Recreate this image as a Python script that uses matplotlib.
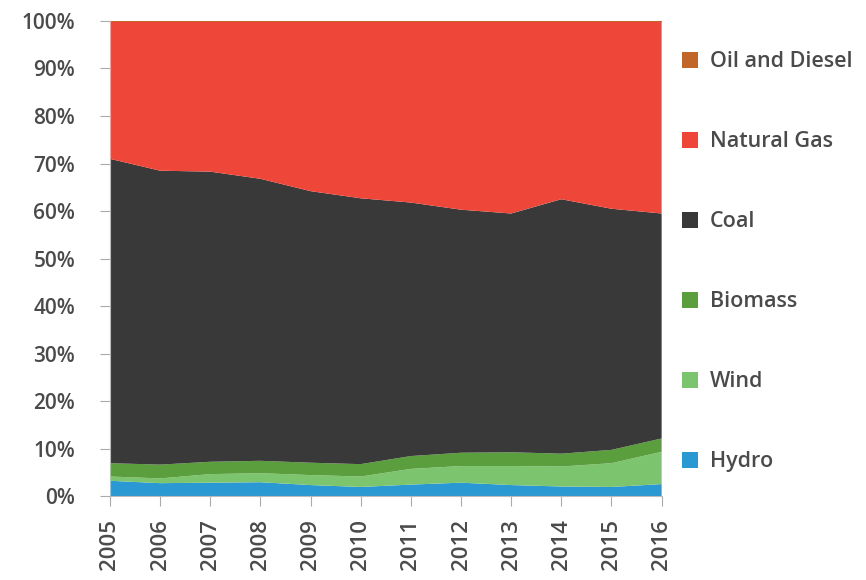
import matplotlib
matplotlib.use("Agg")
import matplotlib.pyplot as plt
from matplotlib.ticker import FuncFormatter

years = [2005, 2006, 2007, 2008, 2009, 2010, 2011, 2012, 2013, 2014, 2015, 2016]
hydro   = [3.3, 2.8, 2.9, 3.0, 2.4, 2.0, 2.5, 2.9, 2.4, 2.1, 2.0, 2.6]
wind    = [0.9, 1.0, 1.8, 1.9, 2.1, 2.2, 3.3, 3.5, 4.0, 4.2, 5.0, 6.8]
biomass = [2.8, 2.9, 2.6, 2.6, 2.6, 2.6, 2.7, 2.8, 2.9, 2.7, 2.8, 2.8]
coal    = [64.0, 61.8, 61.0, 59.3, 57.1, 55.9, 53.3, 51.1, 50.2, 53.5, 50.7, 47.3]
oil     = [0.2, 0.2, 0.2, 0.2, 0.2, 0.2, 0.2, 0.2, 0.2, 0.2, 0.2, 0.2]
gas = [100 - h - w - b - c - o for h, w, b, c, o in zip(hydro, wind, biomass, coal, oil)]

labels = ["Hydro", "Wind", "Biomass", "Coal", "Natural Gas", "Oil and Diesel"]
colors = ["#2A98D2", "#7DC46F", "#5B9E3D", "#3A3939", "#EF463A", "#C1652B"]

plt.rcParams['font.family'] = ['Open Sans', 'DejaVu Sans']

fig = plt.figure(figsize=(8.66, 5.80), dpi=100)
ax = fig.add_axes([0.127, 0.144, 0.637, 0.820])
polys = ax.stackplot(years, hydro, wind, biomass, coal, gas, oil, colors=colors, labels=labels, linewidth=0)

ax.set_xlim(2005, 2016)
ax.set_ylim(0, 100)
ax.set_xticks(years)
ax.set_xticklabels([str(y) for y in years], rotation=90)
ax.set_yticks(range(0, 101, 10))
ax.yaxis.set_major_formatter(FuncFormatter(lambda v, p: f"{int(v)}%"))
for s in ["top", "right"]:
    ax.spines[s].set_visible(False)
for s in ["left", "bottom"]:
    ax.spines[s].set_color("#BBBBBB")
    ax.spines[s].set_linewidth(0.8)
ax.tick_params(axis="both", colors="#AAAAAA", length=7, width=0.8, labelcolor="#4A4A4A")
ax.tick_params(axis="y", labelsize=15, pad=18)
ax.tick_params(axis="x", labelsize=16, pad=9)
for t in ax.get_xticklabels() + ax.get_yticklabels():
    t.set_fontweight("semibold")

handles, labs = ax.get_legend_handles_labels()
leg = fig.legend(handles[::-1], labs[::-1], loc="upper left", bbox_to_anchor=(0.765, 0.945),
                 frameon=False, prop={"size": 15.5, "weight": "semibold"}, labelspacing=2.74,
                 handlelength=0.75, handleheight=0.75, handletextpad=0.55, labelcolor="#4A4A4A")

fig.savefig("out.png", dpi=100)
